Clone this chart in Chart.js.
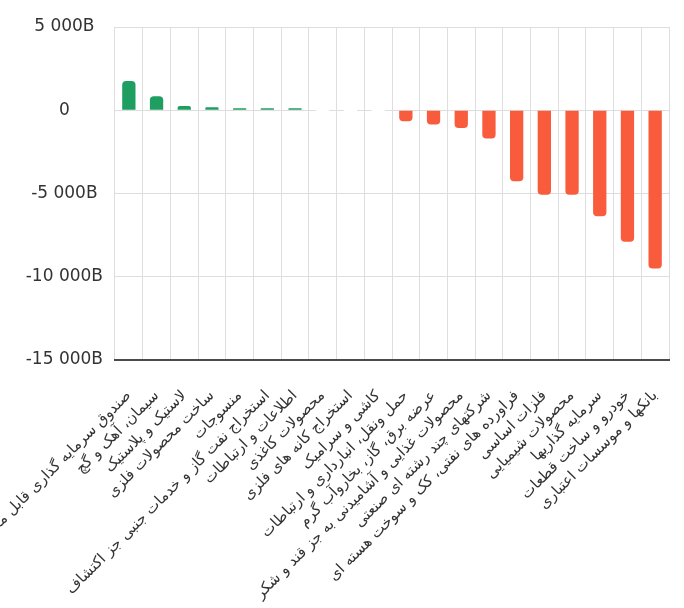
<!DOCTYPE html>
<html lang="fa">
<head>
<meta charset="utf-8">
<title>Sector net flows</title>
<script src="https://cdn.jsdelivr.net/npm/chart.js@4.4.1/dist/chart.umd.min.js"></script>
<style>
  html, body { margin: 0; padding: 0; background: #fff; }
  #wrap { width: 684px; height: 608px; position: relative; }
</style>
</head>
<body>
<div id="wrap"><canvas id="chart"></canvas></div>
<script>
// sectors, left to right
var sectors = [
    'صندوق سرمایه گذاری قابل معامله',
    'سیمان، آهک و گچ',
    'لاستیک و پلاستیک',
    'ساخت محصولات فلزی',
    'منسوجات',
    'استخراج نفت گاز و خدمات جنبی جز اکتشاف',
    'اطلاعات و ارتباطات',
    'محصولات کاغذی',
    'استخراج کانه های فلزی',
    'کاشی و سرامیک',
    'حمل ونقل، انبارداری و ارتباطات',
    'عرضه برق، گاز، بخاروآب گرم',
    'محصولات غذایی و آشامیدنی به جز قند و شکر',
    'شرکتهای چند رشته ای صنعتی',
    'فراورده های نفتی، کک و سوخت هسته ای',
    'فلزات اساسی',
    'محصولات شیمیایی',
    'سرمایه گذاریها',
    'خودرو و ساخت قطعات',
    'بانکها و موسسات اعتباری'
];

// values in billions (B)
var values = [1750, 840, 260, 180, 100, 100, 100, 0, 0, 0,
    -660, -860, -1060, -1690, -4260, -5080, -5080, -6360, -7900, -9500];

// y axis ticks
var yTicks = [-15000, -10000, -5000, 0, 5000];

var GREEN = '#1f9e62';
var RED = '#f95b3d';
var GRID = '#dedede';

function formatB(v) {
    if (v === 0) return '0';
    var s = Math.abs(v).toString().replace(/\B(?=(\d{3})+(?!\d))/g, ' ');
    return (v < 0 ? '-' : '') + s + 'B';
}

function barColor(ctx) {
    var v = ctx.raw;
    if (v > 0) return GREEN;
    if (v < 0) return RED;
    return '#ffffff';
}

Chart.defaults.font.family = '"DejaVu Sans", sans-serif';

var ctx = document.getElementById('chart').getContext('2d');
var chart = new Chart(ctx, {
    type: 'bar',
    data: {
        labels: sectors,
        datasets: [{
            label: 'B',
            data: values,
            backgroundColor: barColor,
            borderWidth: 0,
            borderRadius: 4,
            minBarLength: 2,
            barPercentage: 0.6,
            categoryPercentage: 0.8
        }]
    },
    options: {
        responsive: true,
        maintainAspectRatio: false,
        animation: false,
        layout: { padding: { top: 27, right: 15, left: 0, bottom: 0 } },
        plugins: {
            legend: { display: false },
            tooltip: { enabled: false }
        },
        scales: {
            x: {
                grid: { color: GRID, drawTicks: false },
                border: { color: '#4a4a4a', width: 2 },
                ticks: {
                    autoSkip: false,
                    minRotation: 45,
                    maxRotation: 45,
                    padding: 27,
                    color: '#333',
                    font: { size: 15 }
                },
                afterFit: function(scale) {
                    scale.height = 248;
                    scale.paddingLeft = 0;
                    scale.paddingRight = 0;
                }
            },
            y: {
                min: yTicks[0],
                max: yTicks[yTicks.length - 1],
                afterBuildTicks: function(scale) {
                    scale.ticks = yTicks.map(function(v) { return { value: v }; });
                },
                grid: { color: GRID, drawTicks: false },
                border: { display: false },
                ticks: {
                    crossAlign: 'center',
                    padding: 12,
                    color: '#333',
                    font: { size: 17 },
                    callback: function(v) { return formatB(v); }
                },
                afterFit: function(scale) {
                    scale.width = 115;
                }
            }
        }
    }
});
</script>
</body>
</html>
